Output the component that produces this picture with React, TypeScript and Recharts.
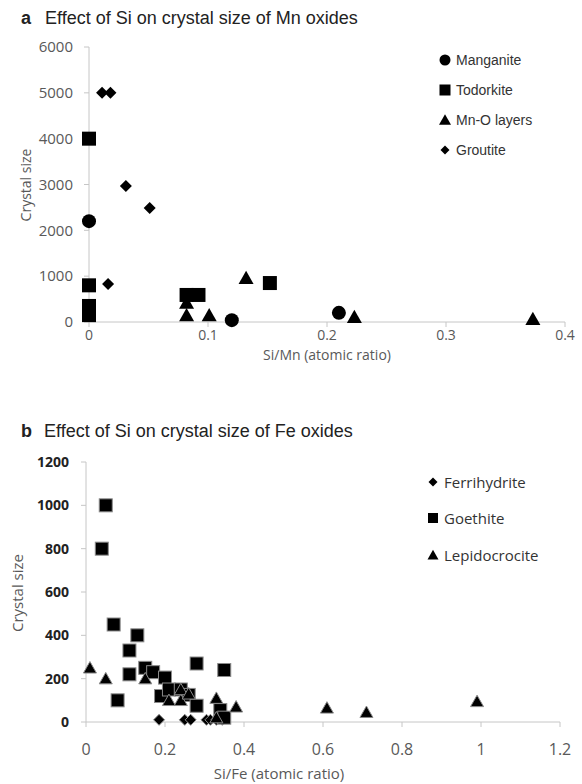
import React from "react";
import { ScatterChart, Scatter, XAxis, YAxis } from "recharts";

// panel a: Si/Mn ratio vs crystal size
const manganite = [
  { x: 0, y: 2200 },
  { x: 0.12, y: 40 },
  { x: 0.21, y: 200 },
];
const todorkite = [
  { x: 0, y: 4000 },
  { x: 0, y: 800 },
  { x: 0, y: 350 },
  { x: 0, y: 150 },
  { x: 0.082, y: 590 },
  { x: 0.092, y: 590 },
  { x: 0.152, y: 850 },
];
const mnoLayers = [
  { x: 0.082, y: 420 },
  { x: 0.082, y: 150 },
  { x: 0.101, y: 150 },
  { x: 0.132, y: 960 },
  { x: 0.223, y: 110 },
  { x: 0.373, y: 65 },
];
const groutite = [
  { x: 0.011, y: 5000 },
  { x: 0.018, y: 5000 },
  { x: 0.031, y: 2970 },
  { x: 0.051, y: 2490 },
  { x: 0.016, y: 830 },
];
const mnXTicks = [0, 0.1, 0.2, 0.3, 0.4];
const mnYTicks = [0, 1000, 2000, 3000, 4000, 5000, 6000];

// panel b: Si/Fe ratio vs crystal size
const ferrihydrite = [
  { x: 0.185, y: 10 },
  { x: 0.25, y: 10 },
  { x: 0.265, y: 10 },
  { x: 0.305, y: 10 },
  { x: 0.315, y: 10 },
  { x: 0.33, y: 10 },
  { x: 0.345, y: 10 },
];
const goethite = [
  { x: 0.05, y: 1000 },
  { x: 0.04, y: 800 },
  { x: 0.07, y: 450 },
  { x: 0.13, y: 400 },
  { x: 0.11, y: 330 },
  { x: 0.11, y: 220 },
  { x: 0.08, y: 100 },
  { x: 0.15, y: 250 },
  { x: 0.17, y: 230 },
  { x: 0.2, y: 205 },
  { x: 0.19, y: 120 },
  { x: 0.21, y: 150 },
  { x: 0.24, y: 150 },
  { x: 0.26, y: 125 },
  { x: 0.28, y: 270 },
  { x: 0.35, y: 240 },
  { x: 0.28, y: 75 },
  { x: 0.34, y: 55 },
  { x: 0.35, y: 20 },
];
const lepidocrocite = [
  { x: 0.01, y: 250 },
  { x: 0.05, y: 200 },
  { x: 0.15, y: 200 },
  { x: 0.21, y: 100 },
  { x: 0.24, y: 100 },
  { x: 0.24, y: 150 },
  { x: 0.26, y: 130 },
  { x: 0.33, y: 110 },
  { x: 0.38, y: 70 },
  { x: 0.33, y: 20 },
  { x: 0.61, y: 65 },
  { x: 0.71, y: 45 },
  { x: 0.99, y: 95 },
];
const feXTicks = [0, 0.2, 0.4, 0.6, 0.8, 1, 1.2];
const feYTicks = [0, 200, 400, 600, 800, 1000, 1200];

const AXIS = "#c6c6c6";
const TICK = "#595959";
const SANS = "'Open Sans', sans-serif";
const ARIAL = "'Liberation Sans', Arial, sans-serif";

function glyph(kind: string, cx: number, cy: number, s: number, stroke?: string) {
  const common = { fill: "#000", stroke: stroke || "none", strokeWidth: stroke ? 1 : 0 };
  if (kind === "circle") return <circle cx={cx} cy={cy} r={s / 2} {...common} />;
  if (kind === "square") return <rect x={cx - s / 2} y={cy - s / 2} width={s} height={s} {...common} />;
  if (kind === "triangle")
    return <path d={`M${cx},${cy - s * 0.48}L${cx + s / 2},${cy + s * 0.4}L${cx - s / 2},${cy + s * 0.4}Z`} {...common} />;
  return <path d={`M${cx},${cy - s / 2}L${cx + s / 2},${cy}L${cx},${cy + s / 2}L${cx - s / 2},${cy}Z`} {...common} />;
}

const marker = (kind: string, s: number, stroke?: string) => (p: any) => {
  if (p.cx == null || p.cy == null) return <g />;
  return glyph(kind, p.cx, p.cy, s, stroke);
};

function LegendRow({ kind, s, label, top, left, fontSize, font }: any) {
  return (
    <div style={{ position: "absolute", top: top - 12, left, height: 24, display: "flex", alignItems: "center" }}>
      <svg width={14} height={14} style={{ marginRight: 4 }}>
        {glyph(kind, 7, 7, s)}
      </svg>
      <span style={{ fontFamily: font, fontSize, color: "#333" }}>{label}</span>
    </div>
  );
}

export default function App() {
  return (
    <div style={{ position: "absolute", left: 0, top: 0, width: 582, height: 784, background: "#fff" }}>
      <div style={{ position: "absolute", left: 21, top: 8, fontFamily: ARIAL, fontSize: 18, color: "#222" }}>
        <b>a</b>
        <span style={{ marginLeft: 14 }}>Effect of Si on crystal size of Mn oxides</span>
      </div>
      <div style={{ position: "absolute", left: 0, top: 0 }}>
        <ScatterChart width={582} height={370} margin={{ top: 47, right: 17, bottom: 18, left: 39 }}>
          <XAxis
            type="number"
            dataKey="x"
            domain={[0, 0.4]}
            ticks={mnXTicks}
            height={30}
            stroke={AXIS}
            tickSize={5}
            tickMargin={3}
            tick={{ fill: TICK, fontSize: 14, fontFamily: SANS }}
          />
          <YAxis
            type="number"
            dataKey="y"
            domain={[0, 6000]}
            ticks={mnYTicks}
            width={50}
            stroke={AXIS}
            tickSize={5}
            tickMargin={11}
            tick={{ fill: TICK, fontSize: 15, fontFamily: SANS }}
          />
          <Scatter data={manganite} shape={marker("circle", 14)} isAnimationActive={false} />
          <Scatter data={mnoLayers} shape={marker("triangle", 15)} isAnimationActive={false} />
          <Scatter data={todorkite} shape={marker("square", 14)} isAnimationActive={false} />
          <Scatter data={groutite} shape={marker("diamond", 12)} isAnimationActive={false} />
        </ScatterChart>
      </div>
      <div
        style={{
          position: "absolute", left: 25, top: 185, transform: "translate(-50%,-50%) rotate(-90deg)",
          fontFamily: SANS, fontSize: 14, color: TICK, whiteSpace: "nowrap",
        }}
      >
        Crystal size
      </div>
      <div
        style={{
          position: "absolute", left: 327, top: 354, transform: "translate(-50%,-50%)",
          fontFamily: SANS, fontSize: 14, color: TICK, whiteSpace: "nowrap",
        }}
      >
        Si/Mn (atomic ratio)
      </div>
      <LegendRow kind="circle" s={11} label="Manganite" top={60} left={438} fontSize={14} font={ARIAL} />
      <LegendRow kind="square" s={11} label="Todorkite" top={90} left={438} fontSize={14} font={ARIAL} />
      <LegendRow kind="triangle" s={12} label="Mn-O layers" top={120} left={438} fontSize={14} font={ARIAL} />
      <LegendRow kind="diamond" s={9} label="Groutite" top={150} left={438} fontSize={14} font={ARIAL} />

      <div style={{ position: "absolute", left: 21, top: 421, fontFamily: ARIAL, fontSize: 18, color: "#222" }}>
        <b>b</b>
        <span style={{ marginLeft: 12 }}>Effect of Si on crystal size of Fe oxides</span>
      </div>
      <div style={{ position: "absolute", left: 0, top: 400 }}>
        <ScatterChart width={582} height={384} margin={{ top: 62, right: 22, bottom: 22, left: 36 }}>
          <XAxis
            type="number"
            dataKey="x"
            domain={[0, 1.2]}
            ticks={feXTicks}
            height={40}
            stroke={AXIS}
            tickSize={5}
            tickMargin={17}
            tick={{ fill: TICK, fontSize: 16, fontFamily: SANS }}
          />
          <YAxis
            type="number"
            dataKey="y"
            domain={[0, 1200]}
            ticks={feYTicks}
            width={50}
            stroke={AXIS}
            tickSize={5}
            tickMargin={12}
            tick={{ fill: "#222", fontSize: 14, fontWeight: 700, fontFamily: SANS }}
          />
          <Scatter data={ferrihydrite} shape={marker("diamond", 11, "#8a8a8a")} isAnimationActive={false} />
          <Scatter data={goethite} shape={marker("square", 13, "#8a8a8a")} isAnimationActive={false} />
          <Scatter data={lepidocrocite} shape={marker("triangle", 13, "#8a8a8a")} isAnimationActive={false} />
        </ScatterChart>
      </div>
      <div
        style={{
          position: "absolute", left: 17, top: 593, transform: "translate(-50%,-50%) rotate(-90deg)",
          fontFamily: SANS, fontSize: 15, color: TICK, whiteSpace: "nowrap",
        }}
      >
        Crystal size
      </div>
      <div
        style={{
          position: "absolute", left: 279, top: 773, transform: "translate(-50%,-50%)",
          fontFamily: SANS, fontSize: 15, color: TICK, whiteSpace: "nowrap",
        }}
      >
        Si/Fe (atomic ratio)
      </div>
      <LegendRow kind="diamond" s={9} label="Ferrihydrite" top={482} left={426} fontSize={15} font={SANS} />
      <LegendRow kind="square" s={10} label="Goethite" top={518} left={426} fontSize={15} font={SANS} />
      <LegendRow kind="triangle" s={11} label="Lepidocrocite" top={555} left={426} fontSize={15} font={SANS} />
    </div>
  );
}
